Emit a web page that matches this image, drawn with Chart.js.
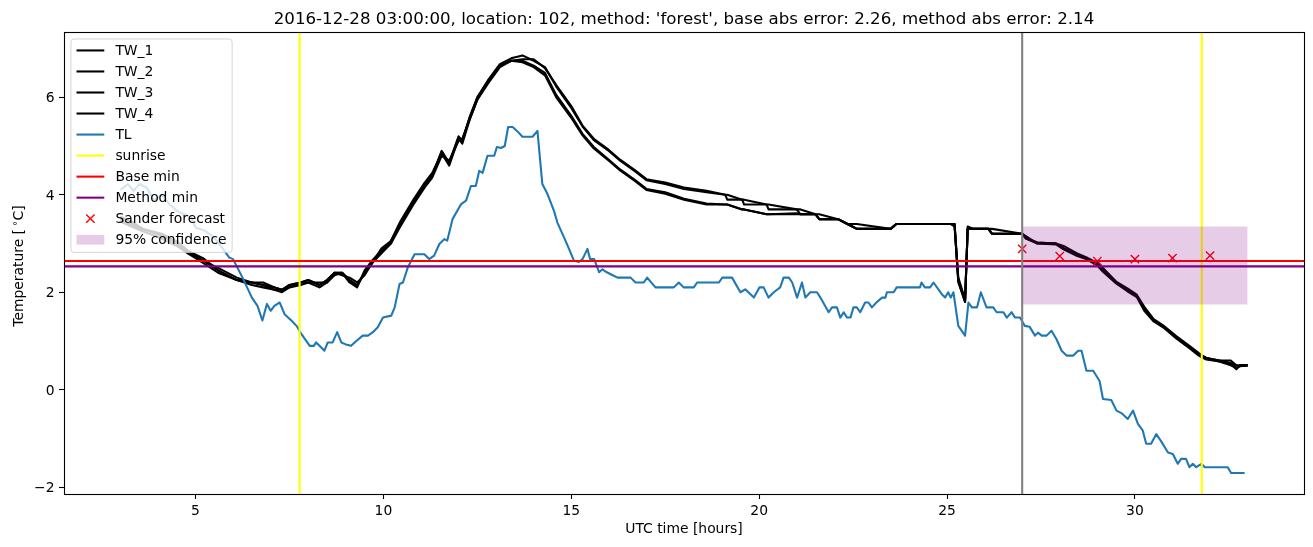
<!DOCTYPE html>
<html><head><meta charset="utf-8">
<script src="https://cdn.jsdelivr.net/npm/chart.js@4"></script>
<style>html,body{margin:0;padding:0;background:#fff}#wrap{width:1313px;height:547px;position:relative}</style>
</head><body><div id="wrap"><canvas id="c"></canvas></div>
<script>
const titleText = "2016-12-28 03:00:00, location: 102, method: 'forest', base abs error: 2.26, method abs error: 2.14";
const xLabel = "UTC time [hours]";
const yLabelParts = ["Temperature [", "\u2218", "C]"];
const xTicks = [5, 10, 15, 20, 25, 30];
const yTicks = [-2, 0, 2, 4, 6];
const xRange = [1.5, 34.5];
const yRange = [-2.14, 7.34];
const legendLabels = ["TW_1", "TW_2", "TW_3", "TW_4", "TL", "sunrise", "Base min", "Method min", "Sander forecast", "95% confidence"];

const twHours = [3.0,3.3,3.6,4.1,4.5,4.8,5.2,5.6,6.1,6.5,
 6.8,7.1,7.3,7.5,7.8,8.0,8.3,8.5,8.7,8.9,
 9.1,9.3,9.5,9.7,9.95,10.2,10.45,10.8,11.1,11.3,
 11.55,11.75,12.0,12.1,12.3,12.5,12.8,13.1,13.4,13.7,
 14.0,14.3,14.6,15.0,15.3,15.6,16.0,16.3,16.7,17.0,
 17.5,18.0,18.6,19.1,19.15,19.55,19.6,20.2,20.25,21.0,
 21.1,21.5,21.6,22.1,22.35,22.6,23.5,23.65,25.1,25.2,
 25.3,25.48,25.55,25.7,26.1,26.2,27.0,27.1,27.4,27.9,
 28.1,28.45,28.7,29.0,29.15,29.5,29.8,30.05,30.25,30.5,
 30.75,31.1,31.45,31.7,31.9,32.25,32.55,32.7,32.8,33.0];
const tw1 = [3.50,3.40,3.30,3.19,3.00,2.85,2.65,2.45,2.25,2.20,
 2.15,2.05,2.05,2.15,2.20,2.25,2.15,2.25,2.40,2.40,
 2.25,2.13,2.40,2.60,2.85,3.00,3.40,3.85,4.20,4.40,
 4.88,4.65,5.18,5.12,5.60,6.00,6.37,6.68,6.80,6.86,
 6.75,6.62,6.22,5.78,5.40,5.12,4.90,4.70,4.48,4.30,
 4.22,4.12,4.05,4.00,3.90,3.90,3.80,3.80,3.70,3.70,
 3.60,3.60,3.50,3.50,3.40,3.30,3.30,3.40,3.40,3.35,
 2.24,1.80,3.35,3.30,3.30,3.20,3.20,3.12,3.02,3.00,
 2.90,2.78,2.70,2.58,2.45,2.20,2.05,1.93,1.65,1.42,
 1.30,1.07,0.87,0.72,0.65,0.58,0.53,0.42,0.50,0.50];
const tw2 = [3.55,3.45,3.30,3.15,3.00,2.80,2.65,2.50,2.30,2.20,
 2.20,2.10,2.05,2.10,2.20,2.20,2.20,2.20,2.40,2.35,
 2.30,2.20,2.35,2.60,2.80,3.00,3.35,3.80,4.15,4.35,
 4.80,4.70,5.10,5.15,5.55,5.95,6.35,6.65,6.75,6.78,
 6.78,6.60,6.25,5.82,5.42,5.15,4.92,4.72,4.50,4.32,
 4.25,4.15,4.08,4.00,4.00,3.90,3.90,3.80,3.80,3.70,
 3.70,3.60,3.60,3.50,3.40,3.40,3.30,3.40,3.40,3.40,
 2.30,1.85,3.30,3.30,3.30,3.30,3.20,3.15,3.00,3.00,
 2.95,2.80,2.72,2.60,2.50,2.22,2.08,1.95,1.70,1.45,
 1.32,1.10,0.90,0.75,0.65,0.60,0.60,0.50,0.50,0.50];
const tw3 = [3.45,3.35,3.25,3.10,2.95,2.80,2.60,2.40,2.25,2.15,
 2.10,2.05,2.00,2.10,2.15,2.20,2.10,2.20,2.35,2.40,
 2.20,2.10,2.45,2.65,2.85,3.05,3.45,3.90,4.25,4.45,
 4.85,4.60,5.15,5.05,5.55,5.95,6.30,6.62,6.75,6.75,
 6.65,6.50,6.05,5.62,5.25,4.98,4.72,4.52,4.30,4.12,
 4.05,3.92,3.82,3.80,3.80,3.70,3.70,3.60,3.60,3.62,
 3.60,3.60,3.50,3.50,3.40,3.30,3.30,3.40,3.40,3.40,
 2.20,1.80,3.30,3.30,3.30,3.20,3.20,3.10,3.00,2.98,
 2.88,2.75,2.68,2.55,2.42,2.18,2.02,1.90,1.62,1.40,
 1.28,1.05,0.85,0.70,0.62,0.58,0.50,0.45,0.48,0.50];
const tw4 = [3.50,3.35,3.30,3.20,3.05,2.85,2.70,2.45,2.25,2.20,
 2.15,2.10,2.05,2.15,2.20,2.25,2.15,2.25,2.40,2.40,
 2.25,2.15,2.40,2.60,2.90,3.05,3.40,3.85,4.20,4.40,
 4.90,4.65,5.20,5.10,5.60,6.00,6.35,6.65,6.75,6.72,
 6.62,6.45,6.00,5.58,5.22,4.95,4.70,4.50,4.28,4.10,
 4.02,3.90,3.80,3.80,3.80,3.70,3.70,3.60,3.60,3.60,
 3.60,3.60,3.50,3.50,3.40,3.30,3.30,3.40,3.40,3.40,
 2.24,1.82,3.30,3.30,3.30,3.20,3.20,3.10,3.02,3.00,
 2.90,2.78,2.70,2.58,2.45,2.20,2.05,1.92,1.65,1.42,
 1.30,1.08,0.88,0.72,0.65,0.60,0.55,0.45,0.50,0.50];

const tlHours = [3.0,3.2,3.35,3.5,3.7,3.9,4.1,4.3,4.5,4.7,
 4.9,5.0,5.25,5.5,5.7,5.9,6.0,6.25,6.5,6.65,
 6.78,6.9,7.0,7.1,7.24,7.37,7.55,7.7,7.82,8.04,
 8.15,8.21,8.3,8.43,8.52,8.65,8.77,8.88,9.0,9.14,
 9.28,9.45,9.59,9.72,9.85,9.99,10.21,10.3,10.43,10.52,
 10.65,10.83,10.96,11.09,11.22,11.35,11.49,11.62,11.7,11.84,
 12.07,12.2,12.33,12.46,12.55,12.64,12.77,12.95,13.02,13.13,
 13.23,13.32,13.44,13.57,13.7,13.97,14.1,14.23,14.37,14.54,
 14.63,14.81,14.94,15.07,15.2,15.3,15.43,15.5,15.61,15.74,
 15.83,15.92,16.05,16.23,16.58,16.71,16.93,17.02,17.24,17.73,
 17.86,17.99,18.26,18.35,18.93,19.02,19.28,19.5,19.63,19.86,
 20.01,20.12,20.25,20.39,20.56,20.65,20.79,20.88,21.01,21.14,
 21.23,21.36,21.54,21.63,21.85,21.94,22.07,22.16,22.25,22.34,
 22.43,22.51,22.6,22.69,22.82,22.91,23.0,23.12,23.27,23.36,
 23.4,23.58,23.66,24.28,24.32,24.41,24.55,24.64,24.86,24.95,
 25.03,25.1,25.17,25.3,25.48,25.57,25.66,25.8,25.9,26.05,
 26.23,26.32,26.5,26.59,26.72,26.81,26.94,27.07,27.2,27.34,
 27.42,27.52,27.65,27.78,27.91,28.05,28.18,28.36,28.49,28.58,
 28.71,28.89,29.06,29.15,29.37,29.51,29.64,29.81,29.95,30.08,
 30.21,30.3,30.43,30.57,30.7,30.88,31.01,31.14,31.23,31.36,
 31.45,31.54,31.63,31.77,31.86,32.47,32.56,32.92];
const tlTemps = [4.10,4.22,4.08,4.22,4.15,3.88,4.01,3.81,3.67,3.60,
 3.53,3.33,3.26,3.12,2.92,2.71,2.68,2.30,1.89,1.72,
 1.42,1.76,1.62,1.72,1.79,1.55,1.42,1.30,1.14,0.90,
 0.90,0.97,0.90,0.80,0.97,0.97,1.18,0.97,0.93,0.90,
 1.00,1.11,1.11,1.18,1.28,1.48,1.52,1.69,2.17,2.20,
 2.51,2.78,2.78,2.78,2.68,2.75,2.99,3.09,3.06,3.50,
 3.81,3.88,4.18,4.18,4.49,4.45,4.80,4.80,4.98,4.96,
 5.00,5.39,5.39,5.30,5.19,5.19,5.31,4.22,4.01,3.67,
 3.43,3.12,2.89,2.65,2.62,2.68,2.89,2.68,2.68,2.41,
 2.47,2.42,2.37,2.30,2.30,2.20,2.20,2.30,2.10,2.10,
 2.20,2.10,2.10,2.20,2.20,2.30,2.30,2.00,2.06,1.89,
 2.10,2.10,1.89,2.00,2.10,2.30,2.30,2.20,1.89,2.20,
 1.89,2.00,2.00,1.89,1.59,1.69,1.69,1.48,1.59,1.48,
 1.48,1.69,1.69,1.59,1.79,1.79,1.69,1.79,1.89,1.89,
 2.00,2.00,2.10,2.10,2.20,2.10,2.10,2.20,1.96,1.89,
 2.00,1.89,2.00,1.31,1.11,1.79,1.69,1.69,2.00,1.69,
 1.69,1.59,1.59,1.48,1.59,1.48,1.48,1.31,1.29,1.11,
 1.17,1.11,1.11,1.21,1.04,0.80,0.70,0.70,0.80,0.80,
 0.39,0.39,0.18,-0.19,-0.21,-0.43,-0.48,-0.60,-0.43,-0.70,
 -0.84,-1.11,-1.11,-0.91,-1.06,-1.29,-1.32,-1.52,-1.42,-1.42,
 -1.59,-1.52,-1.59,-1.52,-1.59,-1.59,-1.71,-1.71];

const sunriseHours = [7.77, 31.78];
const nowHours = [27.0];
const baseMin = [2.64];
const methodMin = [2.53];
const forecastHours = [27, 28, 29, 30, 31, 32];
const forecastTemps = [2.89, 2.74, 2.64, 2.68, 2.70, 2.75];
const confHours = [27, 33];
const confLow = [1.75];
const confHigh = [3.35];

const FONT = '"DejaVu Sans", "Liberation Sans", sans-serif';
const FS = 13.89;
const pts = (xs, ys) => xs.map((x, i) => ({x: x, y: ys[i]}));
const vlines = xs => xs.flatMap(x => [{x: x, y: yRange[0]}, {x: x, y: yRange[1]}, {x: x, y: null}]);
const hline = v => [{x: xRange[0], y: v}, {x: xRange[1], y: v}];
const minus = v => String(v).replace('-', '\u2212');

function line(label, data, color, order, extra) {
  return Object.assign({label: label, data: data, borderColor: color, backgroundColor: color,
    borderWidth: 2.08, pointRadius: 0, pointHoverRadius: 0, fill: false, tension: 0, order: order,
    borderCapStyle: 'butt', borderJoinStyle: 'round', clip: 0}, extra || {});
}

const datasets = [
  line(legendLabels[0], pts(twHours, tw1), '#000000', 11),
  line(legendLabels[1], pts(twHours, tw2), '#000000', 10),
  line(legendLabels[2], pts(twHours, tw3), '#000000', 9),
  line(legendLabels[3], pts(twHours, tw4), '#000000', 8),
  line(legendLabels[4], pts(tlHours, tlTemps), '#1f77b4', 7),
  line(legendLabels[5], vlines(sunriseHours), '#ffff00', 6, {spanGaps: false}),
  line(legendLabels[6], hline(baseMin[0]), '#ff0000', 5),
  line(legendLabels[7], hline(methodMin[0]), '#800080', 4),
  line(legendLabels[8], pts(forecastHours, forecastTemps), '#ff0000', 3,
       {showLine: false, pointRadius: 5.9, pointStyle: 'crossRot', pointBorderWidth: 1.4, borderWidth: 1.4}),
  line(legendLabels[9], pts(confHours, confHours.map(() => confHigh[0])), 'rgba(0,0,0,0)', 2,
       {borderWidth: 0, fill: {value: confLow[0]}, backgroundColor: 'rgba(128,0,128,0.2)'}),
  line('now', vlines(nowHours), '#808080', 1, {spanGaps: false})
];

const legendItems = [
  {t: 'line', c: '#000000'}, {t: 'line', c: '#000000'}, {t: 'line', c: '#000000'}, {t: 'line', c: '#000000'},
  {t: 'line', c: '#1f77b4'}, {t: 'line', c: '#ffff00'}, {t: 'line', c: '#ff0000'}, {t: 'line', c: '#800080'},
  {t: 'x', c: '#ff0000'}, {t: 'patch', c: 'rgba(128,0,128,0.2)'}
];

function rrect(ctx, x, y, w, h, r) {
  ctx.beginPath();
  ctx.moveTo(x + r, y); ctx.lineTo(x + w - r, y); ctx.arcTo(x + w, y, x + w, y + r, r);
  ctx.lineTo(x + w, y + h - r); ctx.arcTo(x + w, y + h, x + w - r, y + h, r);
  ctx.lineTo(x + r, y + h); ctx.arcTo(x, y + h, x, y + h - r, r);
  ctx.lineTo(x, y + r); ctx.arcTo(x, y, x + r, y, r); ctx.closePath();
}

const decor = {
  id: 'decor',
  afterDraw(chart) {
    const ctx = chart.ctx, a = chart.chartArea;
    const sx = chart.scales.x, sy = chart.scales.y;
    ctx.save();
    // frame
    ctx.strokeStyle = '#000'; ctx.lineWidth = 1.1;
    ctx.strokeRect(a.left + 0.5, a.top + 0.5, a.right - a.left, a.bottom - a.top);
    // tick labels
    ctx.fillStyle = '#000';
    ctx.font = FS + 'px ' + FONT;
    ctx.textBaseline = 'alphabetic';
    ctx.textAlign = 'center';
    xTicks.forEach(v => ctx.fillText(minus(v), sx.getPixelForValue(v), a.bottom + 21));
    ctx.textAlign = 'right';
    yTicks.forEach(v => ctx.fillText(minus(v), a.left - 9.5, sy.getPixelForValue(v) + 5));
    // title
    ctx.font = '16.67px ' + FONT; ctx.textAlign = 'center'; ctx.textBaseline = 'alphabetic';
    ctx.fillText(titleText, (a.left + a.right) / 2, a.top - 8.3);
    // x label
    ctx.font = FS + 'px ' + FONT;
    ctx.fillText(xLabel, (a.left + a.right) / 2, 533);
    // y label
    ctx.save();
    ctx.translate(22.5, (a.top + a.bottom) / 2 + 3);
    ctx.rotate(-Math.PI / 2);
    const small = (FS * 0.7).toFixed(2) + 'px ' + FONT, norm = FS + 'px ' + FONT;
    ctx.font = norm; const w0 = ctx.measureText(yLabelParts[0]).width, w2 = ctx.measureText(yLabelParts[2]).width;
    ctx.font = small; const w1 = ctx.measureText(yLabelParts[1]).width;
    const gap = 2.5, total = w0 + gap + w1 + w2;
    let x = -total / 2;
    ctx.textAlign = 'left';
    ctx.font = norm; ctx.fillText(yLabelParts[0], x, 0); x += w0 + gap;
    ctx.font = small; ctx.fillText(yLabelParts[1], x, -4.5); x += w1;
    ctx.font = norm; ctx.fillText(yLabelParts[2], x, 0);
    ctx.restore();
    // legend
    ctx.font = FS + 'px ' + FONT;
    let tw = 0; legendLabels.forEach(l => { tw = Math.max(tw, ctx.measureText(l).width); });
    const pad = 0.4 * FS, hl = 2 * FS, htp = 0.8 * FS, rowH = 1.514 * FS;
    const bx = a.left + 0.5 * FS, by = a.top + 0.5 * FS;
    const bw = pad + hl + htp + tw + pad, bh = 2 * pad + legendLabels.length * rowH - 0.5 * FS - 1;
    rrect(ctx, bx, by, bw, bh, 3);
    ctx.fillStyle = 'rgba(255,255,255,0.8)'; ctx.fill();
    ctx.strokeStyle = 'rgba(204,204,204,0.8)'; ctx.lineWidth = 1; ctx.stroke();
    legendLabels.forEach((lab, i) => {
      const cy = by + 11.5 + i * rowH;
      const hx = bx + pad, it = legendItems[i];
      if (it.t === 'line') {
        ctx.strokeStyle = it.c; ctx.lineWidth = 2.08; ctx.lineCap = 'butt';
        ctx.beginPath(); ctx.moveTo(hx, cy); ctx.lineTo(hx + hl, cy); ctx.stroke();
      } else if (it.t === 'x') {
        const cx = hx + hl / 2, r = 4.17;
        ctx.strokeStyle = it.c; ctx.lineWidth = 1.4;
        ctx.beginPath(); ctx.moveTo(cx - r, cy - r); ctx.lineTo(cx + r, cy + r);
        ctx.moveTo(cx - r, cy + r); ctx.lineTo(cx + r, cy - r); ctx.stroke();
      } else {
        ctx.fillStyle = it.c; ctx.fillRect(hx, cy - 0.35 * FS, hl, 0.7 * FS);
      }
      ctx.fillStyle = '#000'; ctx.textAlign = 'left'; ctx.textBaseline = 'middle';
      ctx.fillText(lab, hx + hl + htp, cy + 0.5);
    });
    ctx.restore();
  }
};

new Chart(document.getElementById('c'), {
  type: 'line',
  data: {datasets: datasets},
  options: {
    responsive: true, maintainAspectRatio: false, animation: false, events: [],
    layout: {padding: {left: 0, right: 9, top: 32, bottom: 0}},
    plugins: {legend: {display: false}, tooltip: {enabled: false}, title: {display: false}},
    scales: {
      x: {
        type: 'linear', min: xRange[0], max: xRange[1],
        afterBuildTicks: s => { s.ticks = xTicks.map(v => ({value: v})); },
        afterFit: s => { s.height = 53; },
        grid: {display: true, drawOnChartArea: false, drawTicks: true, tickLength: 5, tickWidth: 1.1, tickColor: '#000'},
        border: {display: false},
        ticks: {display: false, autoSkip: false}
      },
      y: {
        type: 'linear', min: yRange[0], max: yRange[1],
        afterBuildTicks: s => { s.ticks = yTicks.map(v => ({value: v})); },
        afterFit: s => { s.width = 64; },
        grid: {display: true, drawOnChartArea: false, drawTicks: true, tickLength: 5, tickWidth: 1.1, tickColor: '#000'},
        border: {display: false},
        ticks: {display: false, autoSkip: false}
      }
    }
  },
  plugins: [decor]
});
</script>
</body></html>
